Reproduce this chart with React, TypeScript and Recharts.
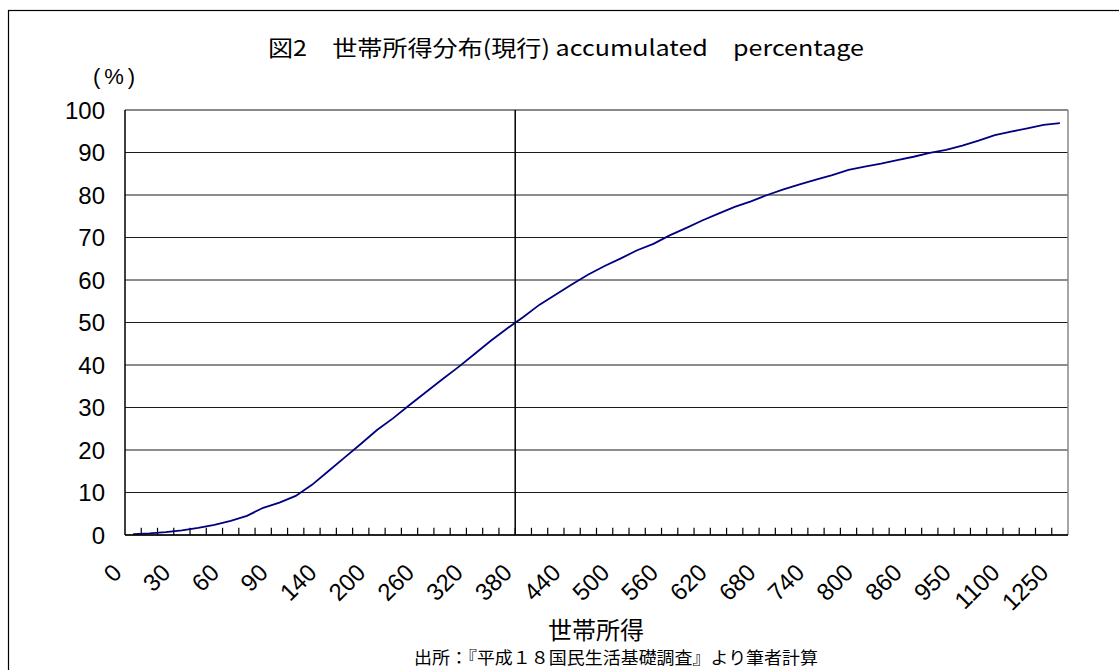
import React from 'react';
import { LineChart, Line, XAxis, YAxis, CartesianGrid, ReferenceLine } from 'recharts';

// 世帯所得の階級（万円）
const incomeBins = [
  0, 10, 20, 30, 40, 50, 60, 70, 80, 90, 100,
  120, 140, 160, 180, 200, 220, 240, 260, 280, 300, 320, 340, 360, 380, 400,
  420, 440, 460, 480, 500, 520, 540, 560, 580, 600, 620, 640, 660, 680, 700,
  720, 740, 760, 780, 800, 820, 840, 860, 880, 900,
  950, 1000, 1050, 1100, 1150, 1200, 1250,
];

// 累積割合（%）
const accumulated = [
  0.2, 0.4, 0.7, 1.1, 1.7, 2.4, 3.3, 4.5, 6.4, 7.6, 9.2,
  11.8, 15.0, 18.2, 21.4, 24.7, 27.5, 30.6, 33.6, 36.6, 39.5, 42.6, 45.7, 48.6, 51.3, 54.2,
  56.6, 59.0, 61.3, 63.3, 65.1, 67.0, 68.5, 70.5, 72.2, 74.0, 75.6, 77.2, 78.5, 80.0, 81.3,
  82.5, 83.6, 84.7, 85.9, 86.7, 87.4, 88.2, 89.0, 89.9, 90.6,
  91.6, 92.8, 94.1, 94.9, 95.7, 96.5, 96.9,
];

const xTickLabels = ['0', '30', '60', '90', '140', '200', '260', '320', '380', '440', '500', '560', '620', '680', '740', '800', '860', '950', '1100', '1250'];
const yTicks = [0, 10, 20, 30, 40, 50, 60, 70, 80, 90, 100];
const medianIncome = 380;

const data = incomeBins.map((inc, i) => ({ idx: i, income: inc, pct: accumulated[i] }));
const labelIdx = xTickLabels.map((l) => incomeBins.indexOf(Number(l)));
const boundaries = incomeBins.slice(1).map((_, i) => i + 0.5);
const lastIdx = incomeBins.length - 1;

const numFont = "'Liberation Sans Narrow', 'Liberation Sans', Arial, sans-serif";
const jpFont = "'Noto Sans CJK JP', sans-serif";

const AngledTick = (props: any) => {
  const { x, y, payload } = props;
  const label = String(incomeBins[Math.round(payload.value)]);
  return (
    <g transform={`translate(${x - 10},${y})`}>
      <text textAnchor="end" transform="rotate(-45)" fontSize={24} fontFamily={numFont} fill="#000">
        {label}
      </text>
    </g>
  );
};

export default function App() {
  return (
    <div style={{ position: 'absolute', left: 0, top: 0, width: 1119, height: 670, background: '#fff', overflow: 'hidden' }}>
      <LineChart width={1119} height={670} data={data} margin={{ top: 110, right: 51, bottom: 75, left: 85 }}>
        <CartesianGrid vertical={false} stroke="#1a1a1a" />
        <XAxis
          type="number"
          dataKey="idx"
          domain={[-0.5, lastIdx + 0.5]}
          ticks={labelIdx}
          interval={0}
          tickLine={false}
          tickSize={0}
          tickMargin={39}
          height={60}
          axisLine={{ stroke: '#000', strokeWidth: 1.5 }}
          tick={<AngledTick />}
        />
        <YAxis
          type="number"
          domain={[0, 100]}
          ticks={yTicks}
          interval={0}
          width={40}
          tickLine={false}
          tickSize={6}
          tickMargin={14}
          axisLine={{ stroke: '#000', strokeWidth: 1.5 }}
          tick={{ fontSize: 24, fill: '#000', fontFamily: numFont }}
        />
        <ReferenceLine y={100} stroke="#888" strokeWidth={1.5} />
        <ReferenceLine x={lastIdx + 0.5} stroke="#888" strokeWidth={1.5} />
        {boundaries.map((b) => (
          <ReferenceLine key={b} segment={[{ x: b, y: 0 }, { x: b, y: 1.7 }]} stroke="#000" strokeWidth={1.2} />
        ))}
        <ReferenceLine x={incomeBins.indexOf(medianIncome) - 0.5} stroke="#000" strokeWidth={1.5} />
        <Line
          type="linear"
          dataKey="pct"
          stroke="#000080"
          strokeWidth={1.8}
          dot={false}
          isAnimationActive={false}
        />
      </LineChart>
      <svg width={1119} height={670} style={{ position: 'absolute', left: 0, top: 0, pointerEvents: 'none' }}>
        <rect x={8.5} y={10.5} width={1200} height={700} fill="none" stroke="#000" strokeWidth={1.2} />
        <text x={268} y={56} fontSize={22} fontFamily={jpFont} textLength={596} lengthAdjust="spacingAndGlyphs">
          図2　世帯所得分布(現行) accumulated　percentage
        </text>
        <text x={93} y={84} fontSize={22} fontFamily={numFont} textLength={42} lengthAdjust="spacing">
          ( % )
        </text>
        <text x={596} y={639} fontSize={24} fontFamily={jpFont} textAnchor="middle">
          世帯所得
        </text>
        <text x={414} y={664} fontSize={17} fontFamily={jpFont} textLength={404} lengthAdjust="spacingAndGlyphs">
          出所：『平成１８国民生活基礎調査』より筆者計算
        </text>
      </svg>
    </div>
  );
}
